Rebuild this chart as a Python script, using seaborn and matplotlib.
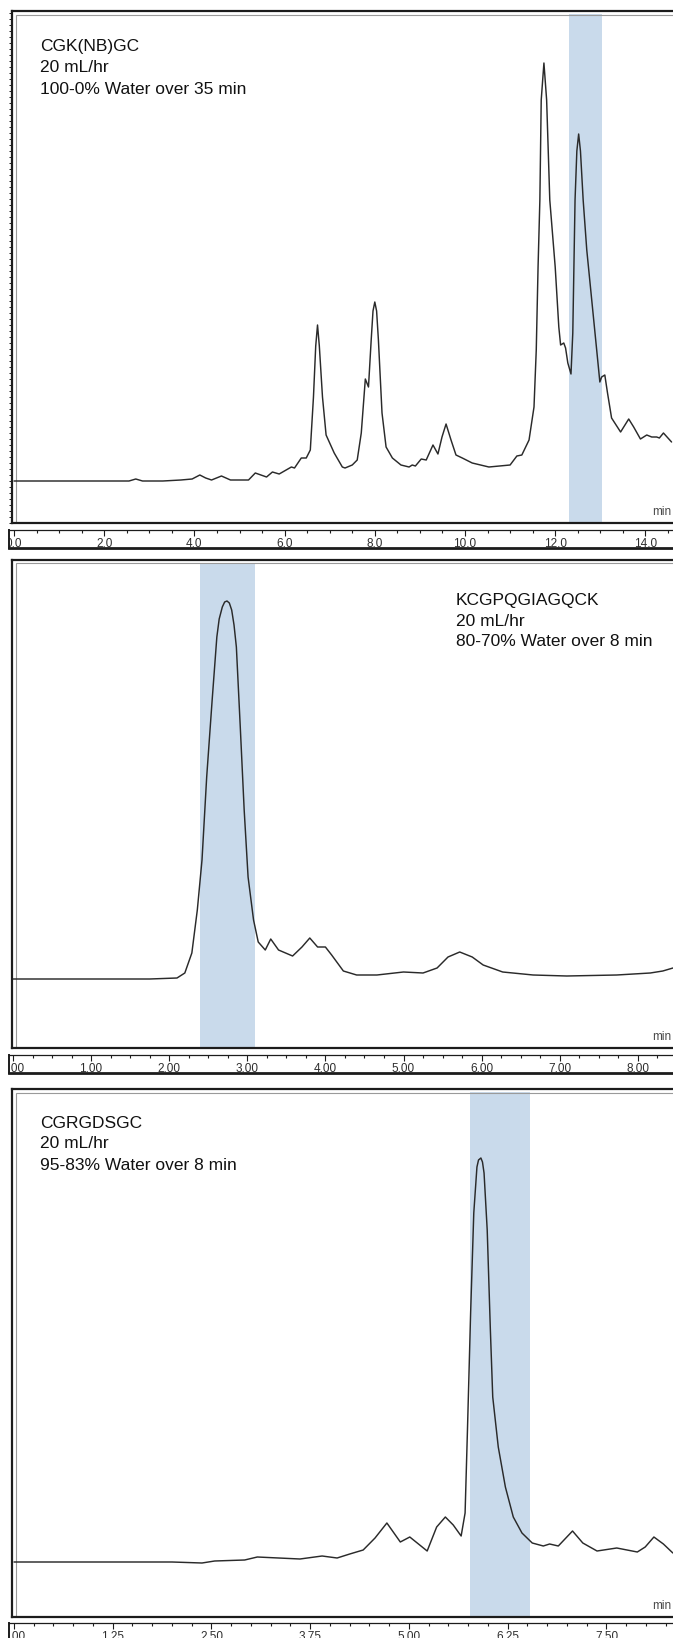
import matplotlib
matplotlib.use("Agg")
import numpy as np
import pandas as pd
import matplotlib.pyplot as plt
from matplotlib.patches import Rectangle
from matplotlib.ticker import MultipleLocator, FormatStrFormatter
import seaborn as sns

# retention time (min) and detector signal (mAU above baseline)
t1 = [0.00, 1.00, 2.00, 2.55, 2.70, 2.85, 3.30, 3.70, 3.95, 4.12, 4.25, 4.38, 4.60, 4.80, 5.20,
      5.35, 5.60, 5.73, 5.88, 6.15, 6.22, 6.37, 6.48, 6.57, 6.64, 6.69, 6.73, 6.77, 6.84, 6.92,
      6.99, 7.10, 7.28, 7.34, 7.50, 7.61, 7.70, 7.79, 7.86, 7.92, 7.96, 8.00, 8.04, 8.08, 8.16,
      8.25, 8.39, 8.58, 8.76, 8.83, 8.90, 9.03, 9.14, 9.29, 9.40, 9.49, 9.58, 9.69, 9.80, 9.94,
      10.16, 10.53, 11.00, 11.15, 11.26, 11.42, 11.53, 11.58, 11.62, 11.66, 11.69, 11.75, 11.81,
      11.88, 12.00, 12.08, 12.12, 12.19, 12.23, 12.28, 12.35, 12.39, 12.44, 12.48, 12.52, 12.56,
      12.62, 12.70, 12.81, 12.92, 12.99, 13.03, 13.10, 13.16, 13.25, 13.45, 13.63, 13.74, 13.89,
      14.03, 14.14, 14.25, 14.31, 14.40, 14.58]
h1 = [0, 0, 0, 0, 2, 0, 0, 1, 2, 6, 3, 1, 5, 1, 1,
      8, 4, 9, 7, 14, 13, 23, 23, 31, 84, 135, 156, 135, 84, 46,
      39, 28, 14, 13, 16, 21, 48, 102, 94, 141, 170, 179, 170, 141, 68,
      34, 23, 16, 14, 16, 15, 22, 21, 36, 27, 44, 57, 41, 26, 23,
      18, 14, 16, 25, 26, 41, 74, 131, 214, 281, 381, 418, 381,
      281, 214, 154, 136, 138, 133, 118, 107, 148, 281, 330, 347, 330,
      281, 231, 181, 131, 99, 104, 106, 88, 63, 49, 62, 54, 42,
      46, 44, 44, 43, 48, 39]

t2 = [0.00, 1.00, 1.75, 2.10, 2.20, 2.29, 2.36, 2.42, 2.48, 2.55, 2.61, 2.64, 2.68, 2.71, 2.74,
      2.77, 2.80, 2.83, 2.86, 2.91, 2.96, 3.01, 3.08, 3.14, 3.23, 3.30, 3.40, 3.58, 3.70, 3.80,
      3.90, 4.00, 4.08, 4.23, 4.40, 4.66, 5.00, 5.25, 5.43, 5.57, 5.72, 5.88, 6.02, 6.27, 6.66,
      7.09, 7.73, 8.16, 8.32, 8.45]
h2 = [0, 0, 0, 1, 6, 26, 69, 119, 202, 279, 342, 360, 372, 377, 378,
      376, 369, 354, 332, 252, 169, 102, 59, 37, 29, 40, 29, 23, 32, 41,
      32, 32, 24, 8, 4, 4, 7, 6, 11, 22, 27, 22, 14, 7, 4,
      3, 4, 6, 8, 11]

t3 = [0.00, 1.00, 2.00, 2.38, 2.54, 2.92, 3.08, 3.62, 3.90, 4.09, 4.25, 4.42, 4.57, 4.72, 4.89,
      5.01, 5.23, 5.35, 5.46, 5.56, 5.66, 5.71, 5.74, 5.78, 5.82, 5.86, 5.88, 5.91, 5.93, 5.95,
      5.99, 6.03, 6.06, 6.13, 6.22, 6.32, 6.43, 6.56, 6.70, 6.78, 6.89, 7.07, 7.20, 7.38, 7.63,
      7.89, 7.99, 8.10, 8.22, 8.34]
h3 = [0, 0, 0, -1, 1, 2, 5, 3, 6, 4, 8, 12, 24, 39, 20,
      25, 11, 35, 45, 37, 26, 49, 132, 249, 349, 395, 402, 404, 400, 389,
      332, 232, 165, 115, 75, 45, 29, 19, 16, 18, 16, 31, 19, 11, 14,
      10, 15, 25, 18, 9]

# collected fraction windows (min)
frac1 = (12.31, 13.03)
frac2 = (2.39, 3.10)
frac3 = (5.77, 6.53)

notes1 = ["CGK(NB)GC", "20 mL/hr", "100-0% Water over 35 min"]
notes2 = ["KCGPQGIAGQCK", "20 mL/hr", "80-70% Water over 8 min"]
notes3 = ["CGRGDSGC", "20 mL/hr", "95-83% Water over 8 min"]

# major step, minor step, label format of each time ruler
ticks1 = (2.0, 0.5, "%.1f")
ticks2 = (1.0, 0.25, "%.2f")
ticks3 = (1.25, 0.25, "%.2f")

W, H = 673, 1638

sns.set_theme(style="white")
plt.rcParams["font.family"] = ["Liberation Sans", "DejaVu Sans"]

fig = plt.figure(figsize=(W / 100, H / 100), dpi=100)


def px_axes(left, top, right, bottom):
    return fig.add_axes([left / W, 1 - bottom / H, (right - left) / W, (bottom - top) / H])


# pixel layout: time origin, px per min, box top/bottom, baseline row, ruler top/bottom
panels = [
    dict(t=t1, h=h1, frac=frac1, notes=notes1, ticks=ticks1, x0=14, ppu=45.1,
         top=11, bottom=523, base=481, rtop=530, rbot=548, note=(40, 47), yruler=True),
    dict(t=t2, h=h2, frac=frac2, notes=notes2, ticks=ticks2, x0=13, ppu=78.1,
         top=560, bottom=1048, base=979, rtop=1055, rbot=1073, note=(456, 600), yruler=False),
    dict(t=t3, h=h3, frac=frac3, notes=notes3, ticks=ticks3, x0=14, ppu=79.0,
         top=1089, bottom=1617, base=1562, rtop=1623, rbot=1641, note=(40, 1123), yruler=False),
]

line_col = "#2a2a2a"
frame_col = "#1c1c1c"
band_col = "#c9daeb"
right_px = W + 12

for p in panels:
    df = pd.DataFrame({"time": p["t"], "signal": p["h"]})

    # chromatogram box
    box_left = 12
    ax = px_axes(box_left, p["top"], right_px, p["bottom"])
    ax.axvspan(*p["frac"], ymin=0, ymax=0.994, color=band_col, lw=0, zorder=0)
    sns.lineplot(data=df, x="time", y="signal", ax=ax, color=line_col, linewidth=1.05,
                 estimator=None, sort=False, zorder=3)
    ax.set_xlim((box_left - p["x0"]) / p["ppu"], (right_px - p["x0"]) / p["ppu"])
    ax.set_ylim(p["base"] - p["bottom"], p["base"] - p["top"])
    ax.set_xlabel("")
    ax.set_ylabel("")
    ax.set_xticks([])
    ax.set_facecolor("white")
    for side in ["top", "left", "bottom"]:
        ax.spines[side].set_visible(True)
        ax.spines[side].set_color(frame_col)
        ax.spines[side].set_linewidth(1.6)
    ax.spines["right"].set_visible(False)
    bw = right_px - box_left
    bh = p["bottom"] - p["top"]
    ax.add_patch(Rectangle((3.5 / bw, -0.1), 2, 1.1 - 3.5 / bh, transform=ax.transAxes,
                           fill=False, ec="#9a9a9a", lw=0.8, zorder=1))
    if p["yruler"]:
        ax.yaxis.set_major_locator(MultipleLocator(30))
        ax.yaxis.set_minor_locator(MultipleLocator(6))
        ax.tick_params(axis="y", which="both", left=True, direction="out", length=2.5,
                       width=0.7, color=frame_col, labelleft=False)
    else:
        ax.set_yticks([])

    for i, s in enumerate(p["notes"]):
        fig.text(p["note"][0] / W, 1 - (p["note"][1] + 21 * i) / H, s,
                 fontsize=12.5, color="#111111", ha="left", va="center")
    fig.text(652 / W, 1 - (p["bottom"] - 11) / H, "min", fontsize=8.5,
             color="#4a4a4a", ha="left", va="center")

    # time ruler under the box
    r_left = 9
    rx = px_axes(r_left, p["rtop"], right_px, p["rbot"])
    rx.set_xlim((r_left - p["x0"]) / p["ppu"], (right_px - p["x0"]) / p["ppu"])
    rx.set_ylim(0, 1)
    rx.set_yticks([])
    rx.set_facecolor("white")
    major, minor, fmt = p["ticks"]
    rx.xaxis.set_major_locator(MultipleLocator(major))
    rx.xaxis.set_minor_locator(MultipleLocator(minor))
    rx.xaxis.set_major_formatter(FormatStrFormatter(fmt))
    rx.tick_params(axis="x", which="both", direction="in", top=True, bottom=False,
                   labeltop=False, labelbottom=True, color=frame_col, width=0.8)
    rx.tick_params(axis="x", which="major", length=4.5, pad=-7.5, labelsize=8.5,
                   labelcolor="#2e2e2e")
    rx.tick_params(axis="x", which="minor", length=2.2)
    rx.spines["top"].set_visible(True)
    rx.spines["top"].set_color(frame_col)
    rx.spines["top"].set_linewidth(0.9)
    rx.spines["bottom"].set_visible(True)
    rx.spines["bottom"].set_color(frame_col)
    rx.spines["bottom"].set_linewidth(2.0)
    rx.spines["left"].set_visible(True)
    rx.spines["left"].set_color(frame_col)
    rx.spines["left"].set_linewidth(1.4)
    rx.spines["right"].set_visible(False)
    p["rx"] = rx

fig.canvas.draw()
for p in panels:
    for lab in p["rx"].get_xticklabels():
        lab.set_fontstretch("condensed")
        lab.set_clip_on(True)
        lab.set_clip_box(p["rx"].bbox)

fig.savefig("out.png", dpi=100, facecolor="white")
